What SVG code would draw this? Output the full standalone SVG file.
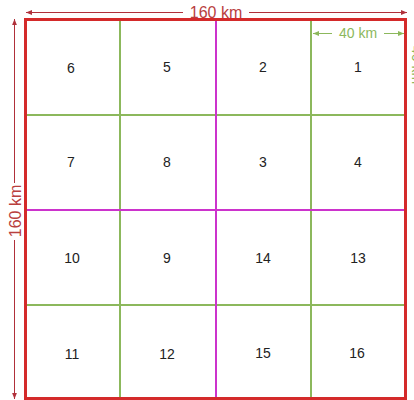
<svg xmlns="http://www.w3.org/2000/svg" width="414" height="400" viewBox="0 0 414 400">
<style>
.num{font-family:"Liberation Sans",Arial,sans-serif;font-size:14px;fill:#222;text-anchor:middle;dominant-baseline:central}
.g{stroke:#8cb85c;stroke-width:2;fill:none}
.m{stroke:#cc33cc;stroke-width:2;fill:none}
.dimr{stroke:#b0303a;stroke-width:1;fill:none}
.dimg{stroke:#8cb85c;stroke-width:1;fill:none}
.lr{font-family:"Liberation Sans",Arial,sans-serif;font-size:16px;fill:#b9403e;text-anchor:middle;dominant-baseline:central}
.lg{font-family:"Liberation Sans",Arial,sans-serif;font-size:14px;fill:#8cb85c;text-anchor:middle;dominant-baseline:central}
</style>
<defs>
<marker id="ar" viewBox="0 0 10 10" refX="10" refY="5" markerWidth="6" markerHeight="6" orient="auto-start-reverse"><path d="M0,1 L10,5 L0,9 z" fill="#b0303a"/></marker>
<marker id="ag" viewBox="0 0 10 10" refX="10" refY="5" markerWidth="6" markerHeight="6" orient="auto-start-reverse"><path d="M0,1 L10,5 L0,9 z" fill="#8cb85c"/></marker>
</defs>
<rect width="414" height="400" fill="#fff"/>
<g id="grid">
<line class="g" x1="120" y1="19" x2="120" y2="399"/>
<line class="g" x1="311" y1="19" x2="311" y2="399"/>
<line class="g" x1="25" y1="115" x2="405" y2="115"/>
<line class="g" x1="25" y1="305" x2="405" y2="305"/>
<line class="m" x1="216" y1="19" x2="216" y2="399"/>
<line class="m" x1="25" y1="210" x2="405" y2="210"/>
<rect x="25.5" y="19.5" width="380" height="379" fill="none" stroke="#d42a2a" stroke-width="3"/>
</g>
<g id="cells">
<text class="num" x="71" y="68">6</text>
<text class="num" x="167" y="67">5</text>
<text class="num" x="263" y="67">2</text>
<text class="num" x="358" y="67">1</text>
<text class="num" x="71" y="162">7</text>
<text class="num" x="167" y="162">8</text>
<text class="num" x="263" y="162">3</text>
<text class="num" x="358" y="162">4</text>
<text class="num" x="72" y="258">10</text>
<text class="num" x="167" y="258">9</text>
<text class="num" x="263" y="258">14</text>
<text class="num" x="358" y="258">13</text>
<text class="num" x="72" y="354">11</text>
<text class="num" x="167" y="354">12</text>
<text class="num" x="263" y="353">15</text>
<text class="num" x="357" y="353">16</text>
</g>
<g id="dimensions">
<line class="dimr" x1="183" y1="12.5" x2="26" y2="12.5" marker-end="url(#ar)"/>
<line class="dimr" x1="249" y1="12.5" x2="407" y2="12.5" marker-end="url(#ar)"/>
<text class="lr" x="216" y="12">160 km</text>
<line class="dimr" x1="14.5" y1="183" x2="14.5" y2="19" marker-end="url(#ar)"/>
<line class="dimr" x1="14.5" y1="240" x2="14.5" y2="399" marker-end="url(#ar)"/>
<text class="lr" transform="translate(15,211) rotate(-90)">160 km</text>
<line class="dimg" x1="332" y1="33.5" x2="313" y2="33.5" marker-end="url(#ag)"/>
<line class="dimg" x1="384" y1="33.5" x2="404" y2="33.5" marker-end="url(#ag)"/>
<text class="lg" x="358" y="33">40 km</text>
<text class="lg" transform="translate(417,65) rotate(90)">40 km</text>
</g>
</svg>
